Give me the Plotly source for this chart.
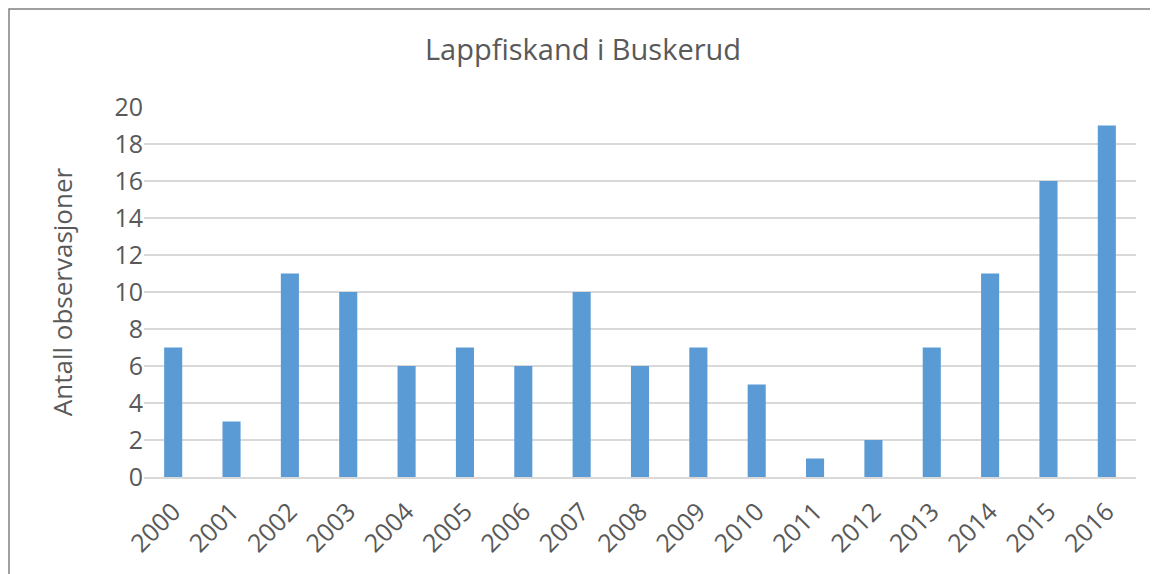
import plotly.graph_objects as go

years = [str(y) for y in range(2000, 2017)]
observations = [7, 3, 11, 10, 6, 7, 6, 10, 6, 7, 5, 1, 2, 7, 11, 16, 19]

fig = go.Figure()
fig.add_trace(go.Bar(x=years, y=observations, marker_color="#5B9BD5",
                     marker_line_width=0))

# page has an 8px body margin, so the figure is 8px smaller
fig.update_layout(
    width=1150, height=566,
    margin=dict(l=136, r=22, t=99, b=97, autoexpand=False),
    paper_bgcolor="white", plot_bgcolor="white",
    font=dict(family="Open Sans, Liberation Sans, sans-serif", color="#595959", size=25),
    title=dict(text="Lappfiskand i Buskerud", x=0.5, xanchor="center",
               y=0.926, yanchor="middle", font=dict(size=29, color="#595959")),
    bargap=0.69,
    showlegend=False,
)
fig.update_xaxes(type="category", tickangle=-45, showgrid=False, automargin=False,
                 showline=True, linecolor="#D9D9D9", linewidth=2, ticks="",
                 tickfont=dict(size=25), ticklabelstandoff=8)
fig.update_yaxes(range=[0, 20], dtick=2, showgrid=True, gridcolor="#D9D9D9",
                 gridwidth=1.5, zeroline=False, ticks="", ticklen=0, automargin=False,
                 tickfont=dict(size=25),
                 title=dict(text="Antall observasjoner", standoff=34, font=dict(size=26)))

# outer chart border
fig.add_shape(type="rect", xref="paper", yref="paper",
              x0=-135 / 992, x1=1.05, y0=-0.4, y1=1 + 98 / 370,
              line=dict(color="#808080", width=1.5), fillcolor="rgba(0,0,0,0)")

fig.write_html("out.html")
